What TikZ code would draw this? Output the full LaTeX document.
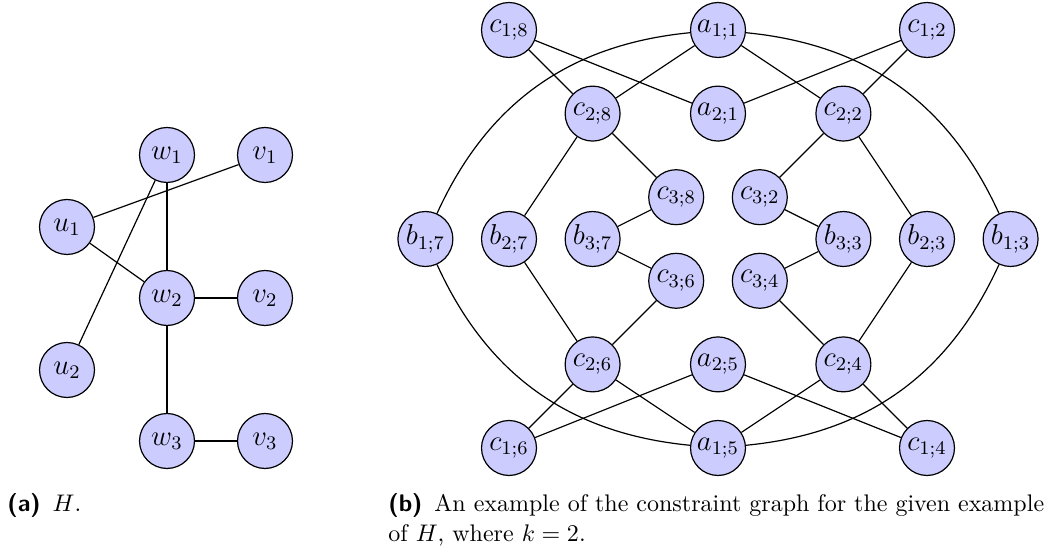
\documentclass[tikz,border=0pt]{standalone}
\usetikzlibrary{positioning}
\begin{document}
\begin{tikzpicture}[x=0.41667pt,y=0.41667pt,
  vtx/.style={circle,draw=black,fill=blue!20,line width=0.5pt,minimum size=22.9pt,inner sep=0pt,font=\large},
  edge/.style={line width=0.5pt},
  captext/.style={anchor=base west,inner sep=0pt,font=\normalsize}]
\useasboundingbox (0,0) rectangle (1056,-552);
% ---------- (a) H ----------
\node[vtx] (w1) at (167,-155) {$w_1$};
\node[vtx] (v1) at (265,-155) {$v_1$};
\node[vtx] (u1) at (67,-227) {$u_1$};
\node[vtx] (w2) at (167,-298) {$w_2$};
\node[vtx] (v2) at (265,-298) {$v_2$};
\node[vtx] (u2) at (67,-370) {$u_2$};
\node[vtx] (w3) at (167,-441) {$w_3$};
\node[vtx] (v3) at (265,-441) {$v_3$};
\draw[edge] (u1) -- (v1);
\draw[edge] (u1) -- (w2);
\draw[edge] (w1) -- (w2);
\draw[edge] (w1) -- (u2);
\draw[edge] (w2) -- (v2);
\draw[edge] (w2) -- (w3);
\draw[edge] (w3) -- (v3);
% ---------- (b) constraint graph ----------
\node[vtx] (c18) at (509,-30) {$c_{1;8}$};
\node[vtx] (a11) at (718,-30) {$a_{1;1}$};
\node[vtx] (c12) at (927,-30) {$c_{1;2}$};
\node[vtx] (c28) at (592.6,-113.6) {$c_{2;8}$};
\node[vtx] (a21) at (718,-113.6) {$a_{2;1}$};
\node[vtx] (c22) at (843.4,-113.6) {$c_{2;2}$};
\node[vtx] (c38) at (676.2,-197.2) {$c_{3;8}$};
\node[vtx] (c32) at (759.8,-197.2) {$c_{3;2}$};
\node[vtx] (b17) at (425.4,-239) {$b_{1;7}$};
\node[vtx] (b27) at (509,-239) {$b_{2;7}$};
\node[vtx] (b37) at (592.6,-239) {$b_{3;7}$};
\node[vtx] (b33) at (843.4,-239) {$b_{3;3}$};
\node[vtx] (b23) at (927,-239) {$b_{2;3}$};
\node[vtx] (b13) at (1010.6,-239) {$b_{1;3}$};
\node[vtx] (c36) at (676.2,-280.8) {$c_{3;6}$};
\node[vtx] (c34) at (759.8,-280.8) {$c_{3;4}$};
\node[vtx] (c26) at (592.6,-364.4) {$c_{2;6}$};
\node[vtx] (a25) at (718,-364.4) {$a_{2;5}$};
\node[vtx] (c24) at (843.4,-364.4) {$c_{2;4}$};
\node[vtx] (c16) at (509,-448) {$c_{1;6}$};
\node[vtx] (a15) at (718,-448) {$a_{1;5}$};
\node[vtx] (c14) at (927,-448) {$c_{1;4}$};
\foreach \p/\q in {c18/c28,c18/a21,a11/c28,a11/c22,c12/a21,c12/c22,
  c28/b27,c28/c38,c22/c32,c22/b23,c38/b37,c32/b33,b37/c36,b33/c34,
  b27/c26,c36/c26,c34/c24,b23/c24,c26/c16,c26/a15,a25/c16,a25/c14,
  c24/a15,c24/c14}
  \draw[edge] (\p) -- (\q);
\draw[edge] (a11) to[bend right=30] (b17);
\draw[edge] (a11) to[bend left=30] (b13);
\draw[edge] (b17) to[bend right=30] (a15);
\draw[edge] (b13) to[bend left=30] (a15);
% ---------- captions ----------
\node[captext] (capa) at (7,-512) {\textsf{\textbf{(a)}}\kern5pt$H$.};
\node[captext] (capb1) at (388,-512) {\textsf{\textbf{(b)}}\kern5pt An example of the constraint graph for the given example};
\node[captext] (capb2) at (388,-542) {of $H$, where $k=2$.};
\end{tikzpicture}
\end{document}
